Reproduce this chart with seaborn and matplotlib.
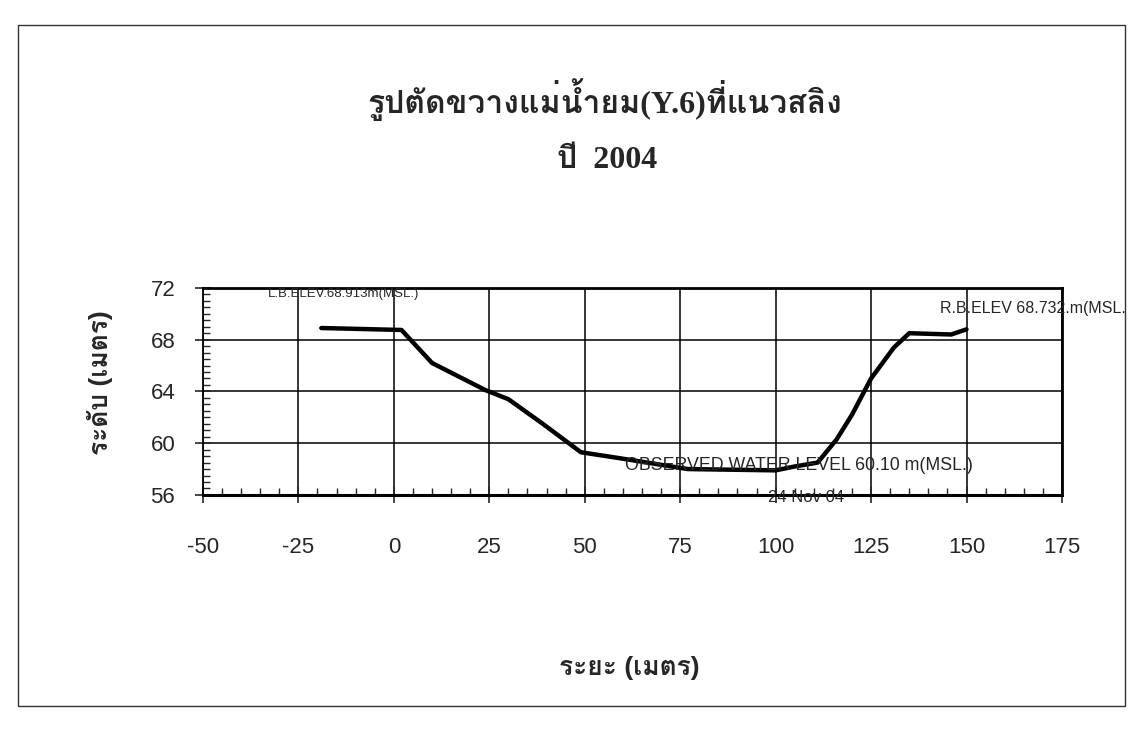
import matplotlib
matplotlib.use('Agg')

import matplotlib.pyplot as plt
import seaborn as sns
from matplotlib import font_manager
from matplotlib.ft2font import FT2Font
from matplotlib.patches import Rectangle
from matplotlib.ticker import MultipleLocator
from matplotlib.transforms import Bbox, TransformedBbox

# Cross-section survey points (distance m, elevation m MSL)
distance = [-19, 2, 10, 24, 30, 39, 49, 60, 77, 100, 105, 111, 116, 120, 125, 131, 135, 146, 150]
elevation = [68.9, 68.75, 66.2, 64.1, 63.4, 61.5, 59.3, 58.8, 58.0, 57.9, 58.2, 58.5, 60.3, 62.2,
             65.0, 67.4, 68.5, 68.4, 68.8]

x_ticks = [-50, -25, 0, 25, 50, 75, 100, 125, 150, 175]
y_ticks = [56, 60, 64, 68, 72]

title_1 = "รูปตัดขวางแม่น้ำยม(Y.6)ที่แนวสลิง"
title_2 = "ปี  2004"
x_label = "ระยะ (เมตร)"
y_label = "ระดับ (เมตร)"
lb_note = "L.B.ELEV.68.913m(MSL.)"
rb_note = "R.B.ELEV 68.732.m(MSL.)"
wl_note = "OBSERVED WATER LEVEL 60.10 m(MSL.)"
date_note = "24 Nov 04"


def find_thai_font():
    for f in font_manager.fontManager.ttflist:
        try:
            cmap = FT2Font(f.fname).get_charmap()
        except Exception:
            continue
        if 0x0E01 in cmap:
            return f.name
    return 'DejaVu Sans'


sns.set_style('ticks')
thai = find_thai_font()
plt.rcParams['font.family'] = ['Liberation Sans', thai, 'DejaVu Sans']
plt.rcParams['axes.unicode_minus'] = False

fig = plt.figure(figsize=(11.37, 7.30), dpi=100)
ax = fig.add_axes([0.1785, 0.322, 0.7555, 0.2836])

sns.lineplot(x=distance, y=elevation, color='black', linewidth=3.2, ax=ax, sort=False)

ax.set_xlim(-50, 175)
ax.set_ylim(56, 72)
ax.set_xticks(x_ticks)
ax.set_yticks(y_ticks)
ax.xaxis.set_minor_locator(MultipleLocator(5))
ax.yaxis.set_minor_locator(MultipleLocator(0.5))
ax.grid(True, which='major', color='black', linewidth=1.1)
for s in ax.spines.values():
    s.set_color('black')
    s.set_linewidth(1.3)
ax.spines['bottom'].set_linewidth(2.2)
ax.spines['top'].set_linewidth(2.0)
ax.spines['right'].set_linewidth(2.0)

ax.tick_params(axis='x', which='major', direction='inout', length=12, width=1.2, labelsize=16, pad=24)
ax.tick_params(axis='y', which='major', direction='inout', length=12, width=1.2, labelsize=16, pad=14)
ax.tick_params(which='minor', direction='in', length=5, width=1.0)

ax.set_xlabel('')
ax.set_ylabel('')

ax.text(-33, 71.5, lb_note, fontsize=9.5, va='center', ha='left')
ax.text(60.5, 58.3, wl_note, fontsize=12.8, va='center', ha='left')
ax.text(98, 55.8, date_note, fontsize=12, va='center', ha='left', clip_on=False)
rb = ax.text(143, 70.4, rb_note, fontsize=11.5, va='center', ha='left', clip_on=True)
rb.set_clip_box(TransformedBbox(Bbox([[0, 0], [1125 / 1137, 1]]), fig.transFigure))

fig.text(0.532, 1 - 100 / 730, title_1, ha='center', va='center', fontsize=23, fontweight='bold',
         family=['Liberation Serif', thai, 'DejaVu Serif'])
fig.text(0.534, 1 - 160 / 730, title_2, ha='center', va='center', fontsize=23, fontweight='bold',
         family=['Liberation Serif', thai, 'DejaVu Serif'])
fig.text(629 / 1137, 1 - 668 / 730, x_label, ha='center', va='center', fontsize=19, fontweight='bold')
fig.text(100 / 1137, 1 - 383 / 730, y_label, ha='center', va='center', fontsize=19, fontweight='bold',
         rotation=90)

# page frame from the scanned sheet
fig.patches.append(Rectangle((18 / 1137, 1 - 706 / 730), (1125 - 18) / 1137, (706 - 25) / 730,
                             transform=fig.transFigure, fill=False, edgecolor='#333333', linewidth=1.0))

fig.savefig('out.png', dpi=100)
